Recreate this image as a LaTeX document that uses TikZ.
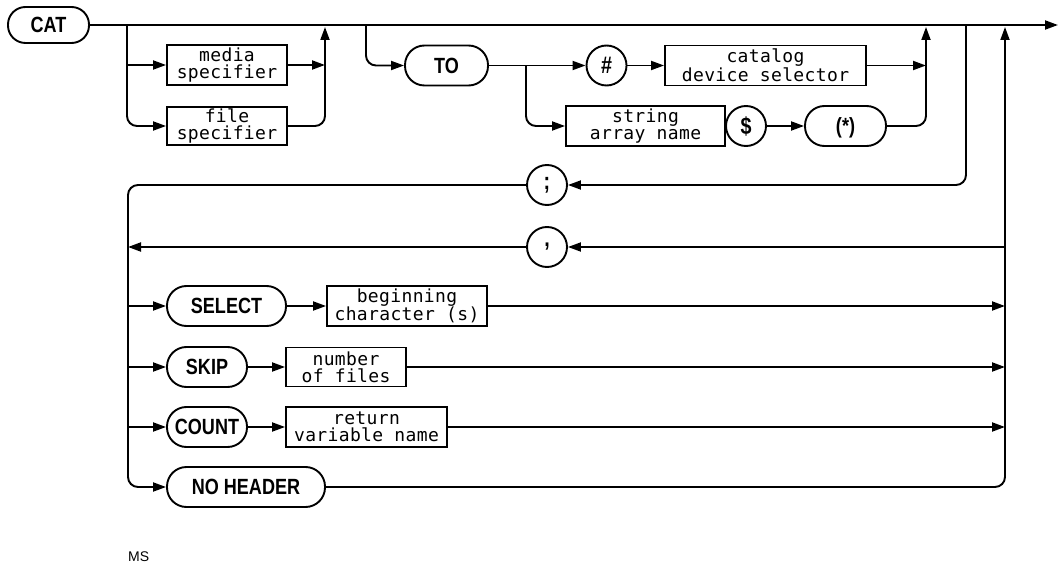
\documentclass[tikz,border=0pt]{standalone}
\usepackage{fontspec}
\setmainfont{Liberation Sans}
\newfontfamily\capfont[FakeStretch=0.82]{Liberation Sans}
\newfontfamily\monofont[LetterSpace=2]{DejaVu Sans Mono}
\usetikzlibrary{arrows.meta}
\begin{document}
\begin{tikzpicture}[x=1pt,y=-1pt,
  line/.style={line width=1.9pt},
  arr/.style={line, -{Triangle[length=13pt,width=9pt]}},
  term/.style={rectangle, draw, line width=1.9pt, rounded corners=19.5pt,
    minimum height=40pt, inner sep=0pt,
    font=\capfont\bfseries\fontsize{22}{22}\selectfont, text height=15.5pt, text depth=0pt},
  nterm/.style={rectangle, draw, line width=1.9pt, minimum height=40pt, inner sep=0pt,
    align=center, font=\monofont\fontsize{18}{17}\selectfont},
  circ/.style={circle, draw, line width=1.9pt, minimum size=40pt, inner sep=0pt,
    font=\capfont\bfseries\fontsize{24}{24}\selectfont},
  lbl/.style={font=\fontsize{14}{14}\selectfont, inner sep=0pt}
]
\useasboundingbox (0,0) rectangle (1059,569);

% nodes
\node[term, minimum width=81pt, minimum height=36pt, rounded corners=17.5pt] (cat) at (48.5,25) {CAT};
\node[nterm, minimum width=120pt] (media) at (227,65) {media\\specifier};
\node[nterm, minimum width=120pt, minimum height=38pt] (file) at (227,126) {file\\specifier};
\node[term, minimum width=83pt] (to) at (446.5,65.5) {TO};
\node[circ] (hash) at (606.5,65.5) {\#};
\node[nterm, minimum width=201pt] (cds) at (765.5,65.5) {catalog\\device selector};
\node[nterm, minimum width=159pt] (san) at (645.5,126) {string\\array name};
\node[circ] (dollar) at (746,126) {\$};
\node[term, minimum width=81pt] (star) at (845.5,126) {(*)};
\node[circ] (semi) at (547,185) {;};
\node[circ] (comma) at (547,247) {,};
\node[term, minimum width=119pt] (select) at (226.5,306) {SELECT};
\node[nterm, minimum width=160pt] (beg) at (407,306) {beginning\\character (s)};
\node[term, minimum width=80pt] (skip) at (207,367) {SKIP};
\node[nterm, minimum width=120pt, minimum height=39pt] (nof) at (346,367) {number\\of files};
\node[term, minimum width=80pt] (count) at (207,427) {COUNT};
\node[nterm, minimum width=161pt] (ret) at (366.5,427) {return\\variable name};
\node[term, minimum width=158pt] (noh) at (246,487) {NO HEADER};
\node[lbl, anchor=west] (ms) at (128,557) {MS};

% junction coordinates
\coordinate (exit) at (1058,25);
\coordinate (j1) at (127,25);
\coordinate (j1m) at (127,65);
\coordinate (m1) at (325,27);
\coordinate (j2) at (366,25);
\coordinate (j3) at (526,65.5);
\coordinate (m2) at (926,27);
\coordinate (j4) at (966,25);
\coordinate (bus) at (128,487);
\coordinate (m3) at (1005,27);
\coordinate (j5) at (1005,247);

% main line
\draw[arr] (cat) -- (exit);

% media / file specifier
\draw[arr, rounded corners=10pt] (j1) |- (file.west);
\draw[arr] (j1m) -- (media.west);
\draw[arr] (media.east) -- (media.east -| m1);
\draw[arr, rounded corners=10pt] (file.east) -| (m1);

% TO branch
\draw[arr, rounded corners=10pt] (j2) |- (to.west);
\draw[arr] (to) -- (hash);
\draw[arr, rounded corners=10pt] (j3) |- (san.west);
\draw[arr] (hash) -- (cds);
\draw[arr] (cds.east) -- (cds.east -| m2);
\draw[arr] (dollar) -- (star);
\draw[arr, rounded corners=10pt] (star.east) -| (m2);

% loops
\draw[arr, rounded corners=10pt] (j4) |- (semi.east);
\draw[arr, rounded corners=10pt] (semi.west) -| (bus) -- (noh.west);
\draw[arr] (j5) -- (comma.east);
\draw[arr] (comma.west) -- (comma.west -| bus);

% option rows
\draw[arr] (select.west -| bus) -- (select.west);
\draw[arr] (skip.west -| bus) -- (skip.west);
\draw[arr] (count.west -| bus) -- (count.west);
\draw[arr] (select) -- (beg);
\draw[arr] (skip) -- (nof);
\draw[arr] (count) -- (ret);
\draw[arr] (beg.east) -- (beg.east -| m3);
\draw[arr] (nof.east) -- (nof.east -| m3);
\draw[arr] (ret.east) -- (ret.east -| m3);
\draw[arr, rounded corners=10pt] (noh.east) -| (m3);
\end{tikzpicture}
\end{document}
